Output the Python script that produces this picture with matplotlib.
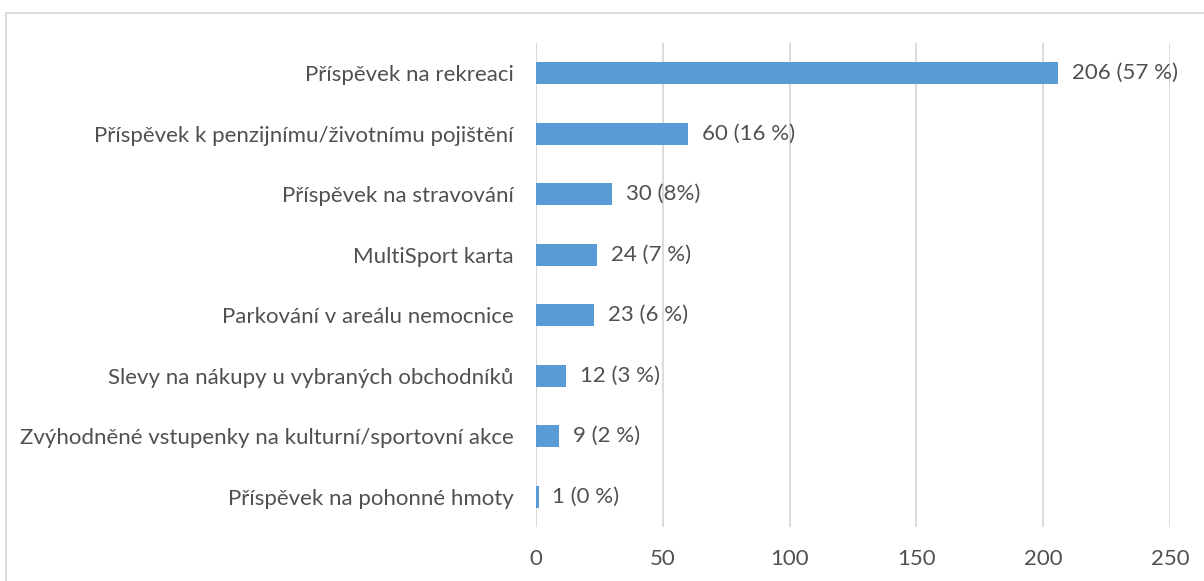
import matplotlib
matplotlib.use("Agg")
import matplotlib.pyplot as plt
from matplotlib.patches import Rectangle

categories = [
    "Příspěvek na rekreaci",
    "Příspěvek k penzijnímu/životnímu pojištění",
    "Příspěvek na stravování",
    "MultiSport karta",
    "Parkování v areálu nemocnice",
    "Slevy na nákupy u vybraných obchodníků",
    "Zvýhodněné vstupenky na kulturní/sportovní akce",
    "Příspěvek na pohonné hmoty",
]
values = [206, 60, 30, 24, 23, 12, 9, 1]
value_labels = ["206 (57 %)", "60 (16 %)", "30 (8%)", "24 (7 %)", "23 (6 %)",
                "12 (3 %)", "9 (2 %)", "1 (0 %)"]
xticks = [0, 50, 100, 150, 200, 250]

plt.rcParams['font.family'] = ['Lato', 'DejaVu Sans']
text_color = "#505050"
bar_color = "#5B9BD5"
grid_color = "#D9D9D9"

fig = plt.figure(figsize=(12.04, 5.81), dpi=100)
ax = fig.add_axes([536/1204, 1-527/581, (1170-536)/1204, (527-43)/581])

pos = list(range(len(categories)))
ax.barh(pos, values, height=0.36, color=bar_color, zorder=3)
ax.set_ylim(len(categories)-0.5, -0.5)
ax.set_xlim(0, 250)
ax.set_xticks(xticks)
ax.set_xticklabels([str(t) for t in xticks])
ax.set_yticks(pos)
ax.set_yticklabels(categories)
ax.tick_params(axis='both', length=0, labelsize=16, colors=text_color)
ax.tick_params(axis='y', pad=16)
ax.tick_params(axis='x', pad=16)
ax.grid(axis='x', color=grid_color, linewidth=1.3, zorder=0)
for s in ax.spines.values():
    s.set_visible(False)
ax.axvline(0, color=grid_color, linewidth=1.3, zorder=1)

for p, v, lab in zip(pos, values, value_labels):
    ax.annotate(lab, (v, p), xytext=(10, 0), textcoords='offset points',
                va='center', ha='left', fontsize=16, color=text_color)

fig.patches.append(Rectangle((6/1204, -0.01), 1.0, 1-13/581+0.01,
                             transform=fig.transFigure, fill=False,
                             edgecolor=grid_color, linewidth=1.3))

fig.savefig("out.png", dpi=100)
